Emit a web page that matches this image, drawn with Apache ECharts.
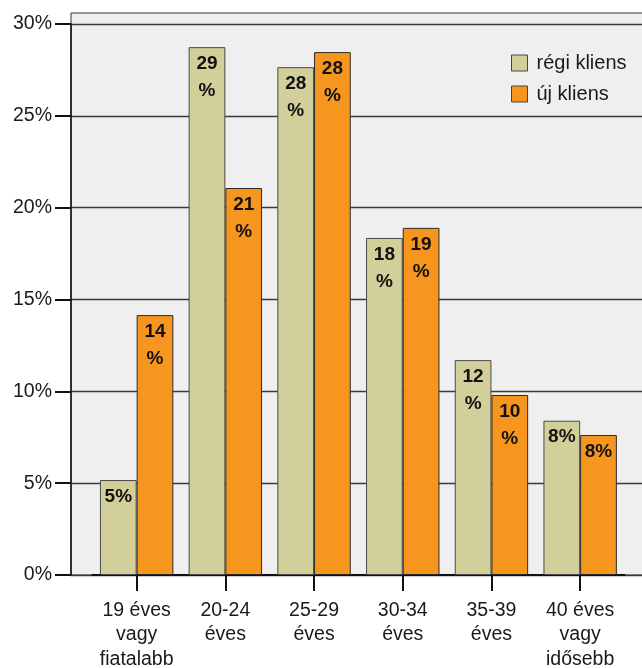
<!DOCTYPE html>
<html>
<head>
<meta charset="utf-8">
<script src="https://cdn.jsdelivr.net/npm/echarts@6/dist/echarts.min.js"></script>
<style>
  html, body { margin: 0; padding: 0; background: #ffffff; }
  #chart { width: 642px; height: 668px; }
</style>
</head>
<body>
<div id="chart"></div>
<script>
// Age groups of clients
const categories = ['19 éves\nvagy\nfiatalabb', '20-24\néves', '25-29\néves', '30-34\néves', '35-39\néves', '40 éves\nvagy\nidősebb'];
// Share of each age group, percent
const regiKliens = [5.17, 28.74, 27.65, 18.35, 11.7, 8.4];
const ujKliens = [14.15, 21.07, 28.47, 18.9, 9.8, 7.62];
const seriesNames = ['régi kliens', 'új kliens'];
const yTicks = { min: 0, max: 30, interval: 5 };

const FONT = '"Liberation Sans", Arial, sans-serif';
const COL_REGI = '#d3cf9a';
const COL_UJ = '#f7961f';

function barLabel(p) {
  const r = Math.round(p.value);
  return r >= 10 ? r + '\n%' : r + '%';
}

const labelStyle = {
  show: true,
  position: 'insideTop',
  distance: 3,
  formatter: barLabel,
  fontFamily: FONT,
  fontSize: 19,
  fontWeight: 'bold',
  lineHeight: 27,
  color: '#111'
};

const gridBase = { outerBoundsMode: 'none', containLabel: false };

const chart = echarts.init(document.getElementById('chart'));
chart.setOption({
  backgroundColor: '#ffffff',
  animation: false,
  legend: {
    orient: 'vertical',
    left: 506,
    top: 48,
    itemWidth: 16,
    itemHeight: 16,
    itemGap: 11,
    icon: 'rect',
    data: seriesNames,
    textStyle: { fontFamily: FONT, fontSize: 20, lineHeight: 20, color: '#1a1a1a', padding: [0, 0, 0, 4] },
    itemStyle: { borderColor: '#444', borderWidth: 1 }
  },
  grid: [
    // plot frame with background
    Object.assign({ left: 71, top: 13, right: -10, bottom: 93, show: true, backgroundColor: '#efefef', borderColor: '#333', borderWidth: 1 }, gridBase),
    // percent scale with gridlines
    Object.assign({ left: 71, top: 24, right: -10, bottom: 93 }, gridBase),
    // bars and category axis
    Object.assign({ left: 92.3, right: 17.5, top: 24, bottom: 93 }, gridBase)
  ],
  xAxis: [
    { gridIndex: 0, type: 'value', show: false },
    { gridIndex: 1, type: 'value', show: false },
    {
      gridIndex: 2,
      type: 'category',
      data: categories,
      boundaryGap: true,
      axisLine: { show: true, lineStyle: { color: '#111', width: 2 } },
      axisTick: { show: true, alignWithLabel: true, length: 16, lineStyle: { color: '#111', width: 2 } },
      axisLabel: { margin: 23, fontFamily: FONT, fontSize: 19.5, lineHeight: 24.5, color: '#1a1a1a', interval: 0 }
    }
  ],
  yAxis: [
    { gridIndex: 0, type: 'value', show: false },
    {
      gridIndex: 1,
      type: 'value',
      min: yTicks.min,
      max: yTicks.max,
      interval: yTicks.interval,
      axisLine: { show: true, lineStyle: { color: '#111', width: 1.5 } },
      axisTick: { show: true, length: 16, lineStyle: { color: '#111', width: 2 } },
      axisLabel: { margin: 19, fontFamily: FONT, fontSize: 19.5, color: '#1a1a1a', formatter: '{value}%', padding: [3, 0, 0, 0] },
      splitLine: { show: true, lineStyle: { color: '#3a3a3a', width: 1.3 } }
    },
    { gridIndex: 2, type: 'value', min: yTicks.min, max: yTicks.max, show: false }
  ],
  series: [
    {
      name: seriesNames[0],
      type: 'bar',
      xAxisIndex: 2,
      yAxisIndex: 2,
      data: regiKliens,
      barWidth: 36.7,
      barGap: '0%',
      itemStyle: { color: COL_REGI, borderColor: '#4a4a4a', borderWidth: 1 },
      label: labelStyle
    },
    {
      name: seriesNames[1],
      type: 'bar',
      xAxisIndex: 2,
      yAxisIndex: 2,
      data: ujKliens,
      barWidth: 36.7,
      barGap: '0%',
      itemStyle: { color: COL_UJ, borderColor: '#2a2a2a', borderWidth: 1 },
      label: labelStyle
    }
  ]
});
</script>
</body>
</html>
